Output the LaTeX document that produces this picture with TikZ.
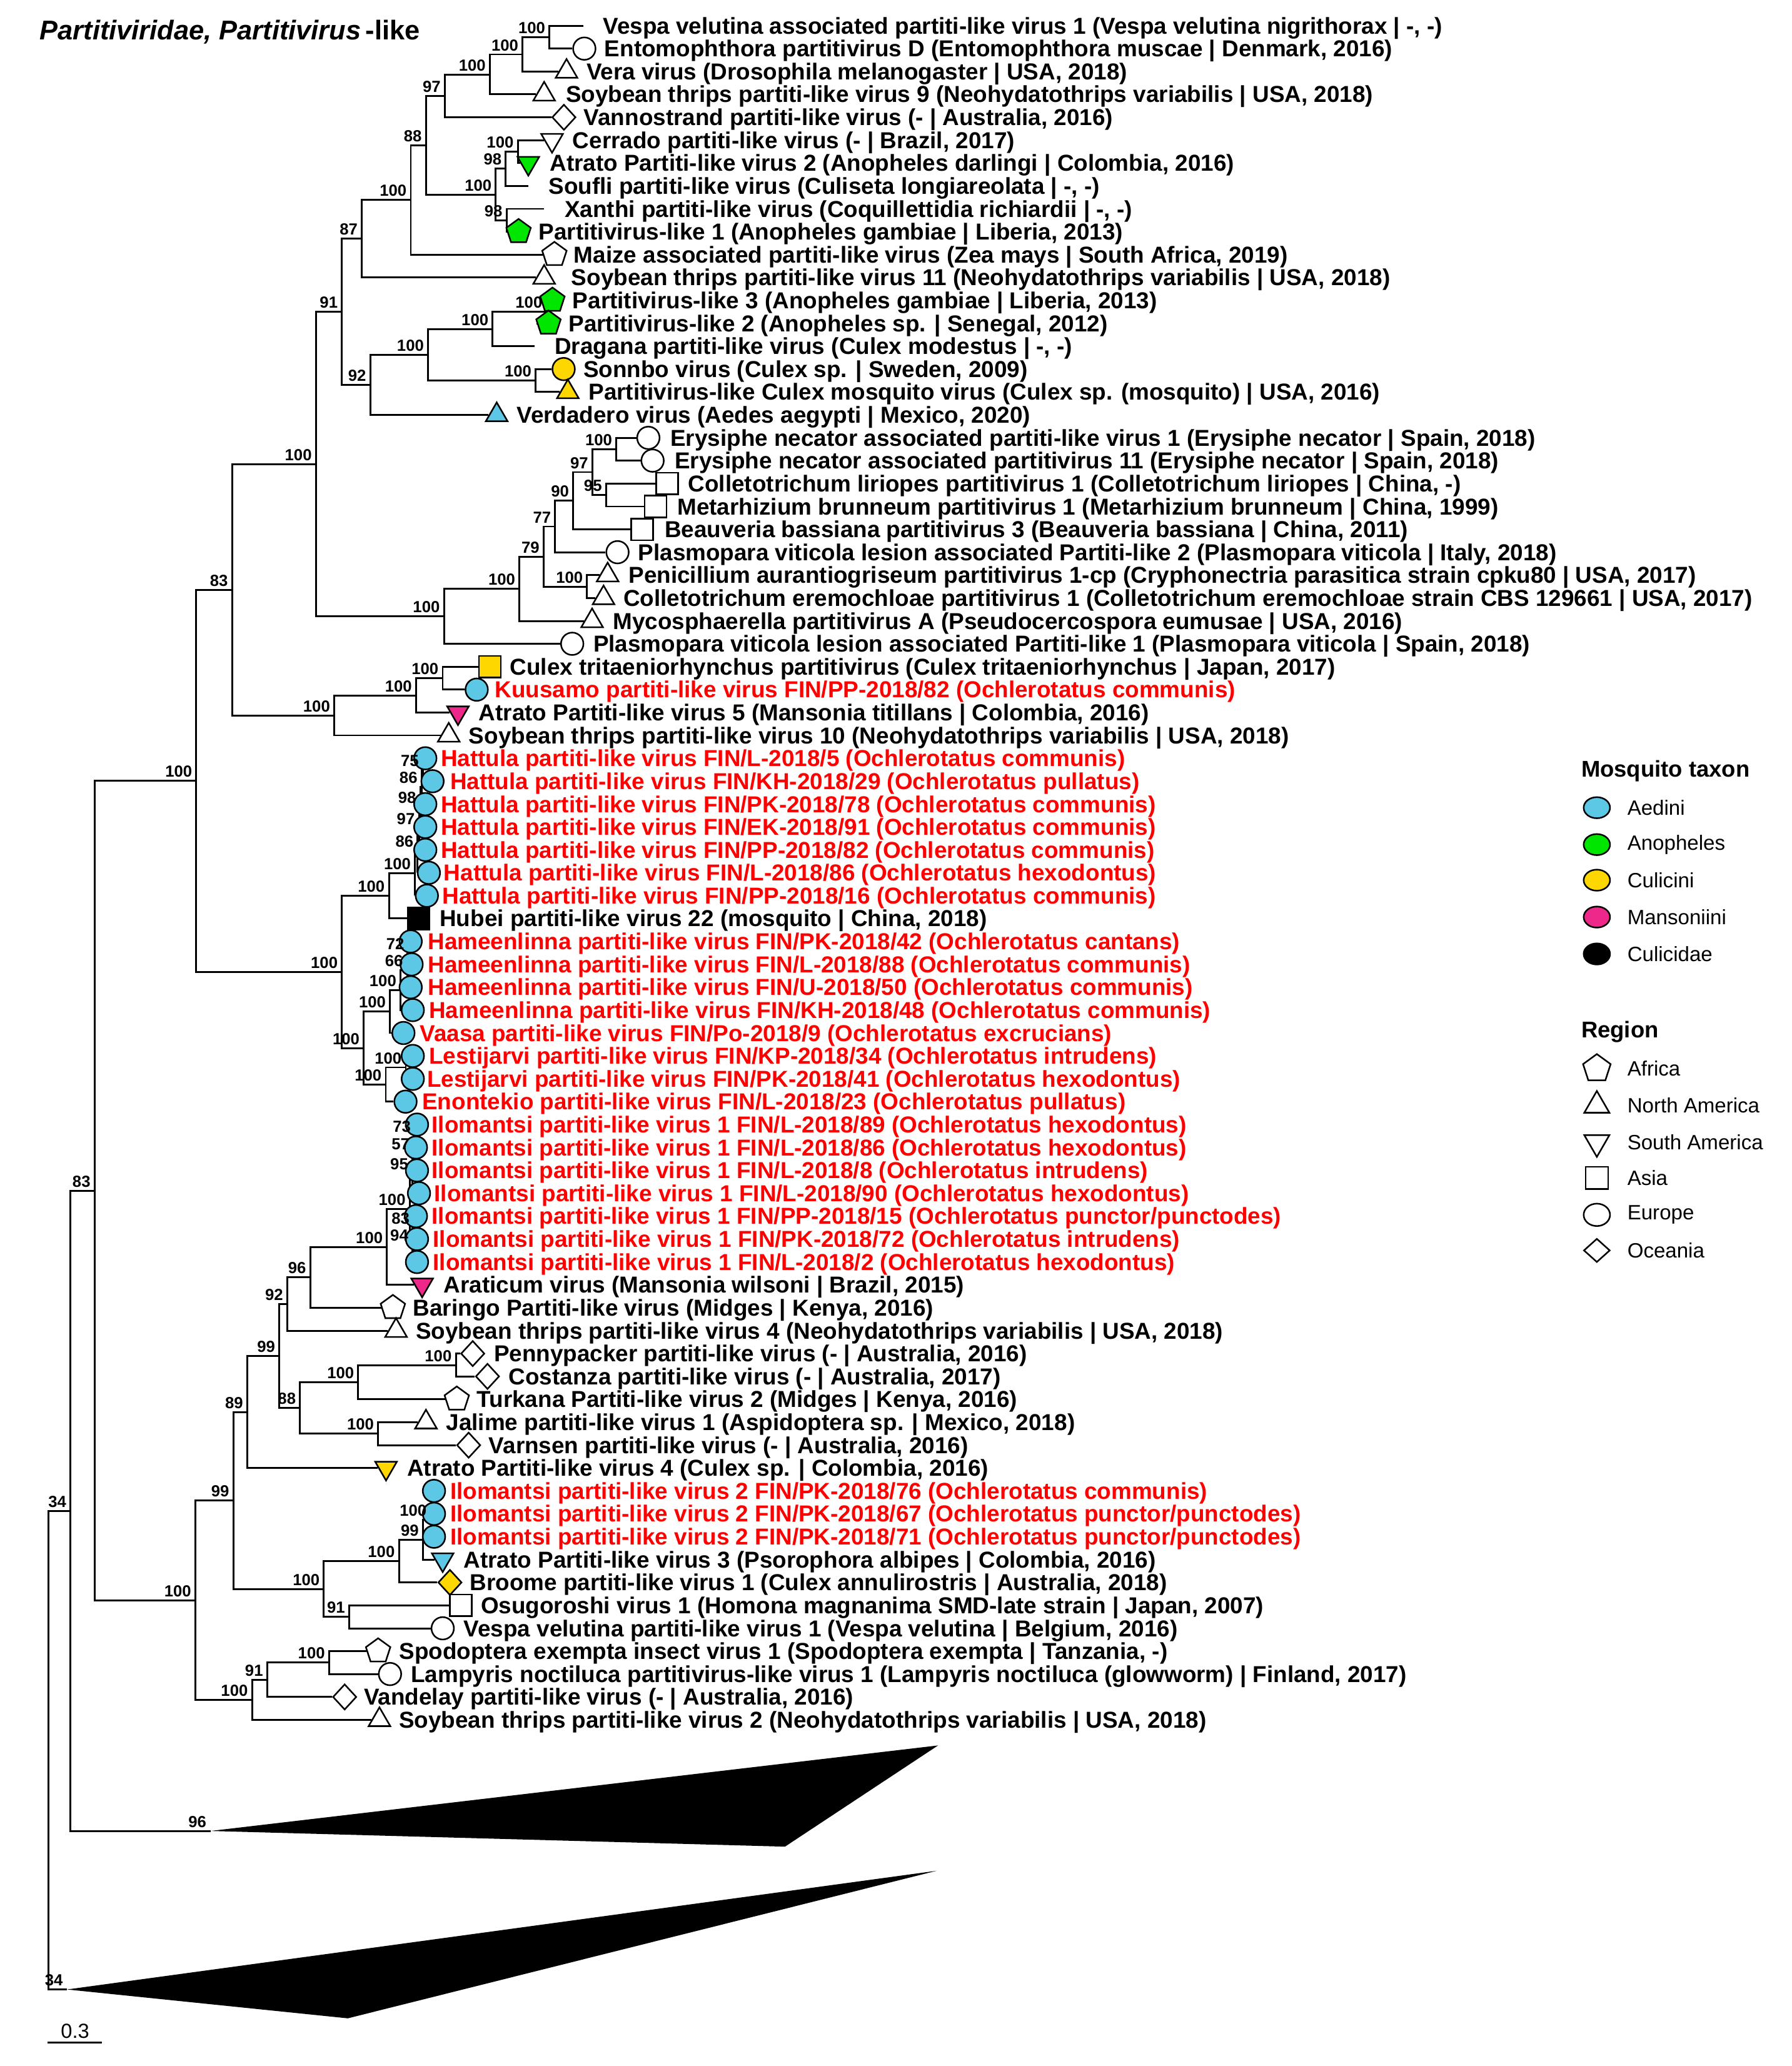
\documentclass[tikz,border=0pt]{standalone}
\usepackage{fontspec}
\setmainfont{Liberation Sans}
\usetikzlibrary{shapes.geometric}

\definecolor{aedini}{RGB}{92,200,230}
\definecolor{anoph}{RGB}{0,230,0}
\definecolor{culic}{RGB}{255,215,0}
\definecolor{manso}{RGB}{238,40,138}
\definecolor{finred}{RGB}{255,0,0}

\pgfdeclarelayer{bg}
\pgfsetlayers{bg,main}

\tikzset{
  br/.style={line width=1.4pt},
  sym/.style={draw,line width=1.2pt,inner sep=0pt,fill=white},
  eu/.style={sym,circle,minimum size=17pt},
  na/.style={sym,regular polygon,regular polygon sides=3,minimum size=19pt},
  sa/.style={na,shape border rotate=180},
  asi/.style={sym,rectangle,minimum size=16.5pt},
  af/.style={sym,regular polygon,regular polygon sides=5,minimum size=19.5pt},
  oc/.style={sym,diamond,minimum width=18pt,minimum height=19.5pt},
  bs/.style={anchor=south east,inner sep=0pt,xshift=-3pt,yshift=2.5pt,font=\fontsize{12.2}{13}\selectfont\bfseries},
  lf/.style={anchor=base west,inner sep=0pt,yshift=-6.2pt,font=\fontsize{17.5}{18}\selectfont\bfseries},
  fin/.style={lf,text=finred},
  lg/.style={anchor=west,inner sep=0pt,font=\fontsize{15.7}{17}\selectfont},
  lgh/.style={anchor=west,inner sep=0pt,font=\fontsize{17.3}{18}\selectfont\bfseries},
}

\begin{document}
\begin{tikzpicture}[x=1pt,y=-1pt]
\useasboundingbox (0,0) rectangle (1360,1568);

\node (ttl) at (30,30) [anchor=base west,inner sep=0pt,font=\fontsize{20.6}{22}\selectfont\bfseries] {\textit{Partitiviridae, Partitivirus}\,-like};

% leaf symbols
\coordinate (l1) at (443,19.5);
\node (l2) at (443.5,36.9) [eu] {};
\node (l3) at (430,54.3) [na] {};
\node (l4) at (413,71.6) [na] {};
\node (l5) at (428,89) [oc] {};
\node (l6) at (419,106.4) [sa] {};
\node (l7) at (401,123.8) [sa,fill=anoph] {};
\coordinate (l8) at (401,141.1);
\coordinate (l9) at (413,158.5);
\node (l10) at (393.6,175.9) [af,fill=anoph] {};
\node (l11) at (420.8,193.3) [af] {};
\node (l12) at (413,210.6) [na] {};
\node (l13) at (419.3,228) [af,fill=anoph] {};
\node (l14) at (416.3,245.4) [af,fill=anoph] {};
\coordinate (l15) at (405.7,262.8);
\node (l16) at (427.8,280.1) [eu,fill=culic] {};
\node (l17) at (431,297.5) [na,fill=culic] {};
\node (l18) at (377,314.9) [na,fill=aedini] {};
\node (l19) at (492.1,332.3) [eu] {};
\node (l20) at (495.3,349.6) [eu] {};
\node (l21) at (506.3,367) [asi] {};
\node (l22) at (497.6,384.4) [asi] {};
\node (l23) at (487.4,401.8) [asi] {};
\node (l24) at (468.7,419.1) [eu] {};
\node (l25) at (461.2,436.5) [na] {};
\node (l26) at (458.1,453.9) [na] {};
\node (l27) at (449.4,471.3) [na] {};
\node (l28) at (434.3,488.6) [eu] {};
\node (l29) at (371.8,506) [asi,fill=culic] {};
\node (l30) at (361.8,523.4) [eu,fill=aedini] {};
\node (l31) at (347.6,540.8) [sa,fill=manso] {};
\node (l32) at (340.6,558.1) [na] {};
\node (l33) at (322.8,575.5) [eu,fill=aedini] {};
\node (l34) at (328.3,592.9) [eu,fill=aedini] {};
\node (l35) at (322.8,610.3) [eu,fill=aedini] {};
\node (l36) at (322.8,627.6) [eu,fill=aedini] {};
\node (l37) at (322.8,645) [eu,fill=aedini] {};
\node (l38) at (325.5,662.4) [eu,fill=aedini] {};
\node (l39) at (324,679.8) [eu,fill=aedini] {};
\node (l40) at (317.7,697.1) [asi,fill=black] {};
\node (l41) at (311.7,714.5) [eu,fill=aedini] {};
\node (l42) at (312.4,731.9) [eu,fill=aedini] {};
\node (l43) at (311.7,749.3) [eu,fill=aedini] {};
\node (l44) at (313.3,766.6) [eu,fill=aedini] {};
\node (l45) at (306.2,784) [eu,fill=aedini] {};
\node (l46) at (313.3,801.4) [eu,fill=aedini] {};
\node (l47) at (313.3,818.8) [eu,fill=aedini] {};
\node (l48) at (307.8,836.1) [eu,fill=aedini] {};
\node (l49) at (316.5,853.5) [eu,fill=aedini] {};
\node (l50) at (315.7,870.9) [eu,fill=aedini] {};
\node (l51) at (316.5,888.3) [eu,fill=aedini] {};
\node (l52) at (318,905.6) [eu,fill=aedini] {};
\node (l53) at (315.7,923) [eu,fill=aedini] {};
\node (l54) at (316.5,940.4) [eu,fill=aedini] {};
\node (l55) at (316.5,957.8) [eu,fill=aedini] {};
\node (l56) at (320.4,975.1) [sa,fill=manso] {};
\node (l57) at (298.2,992.5) [af] {};
\node (l58) at (300.6,1009.9) [na] {};
\node (l59) at (358.8,1027.3) [oc] {};
\node (l60) at (370,1044.6) [oc] {};
\node (l61) at (346.7,1062) [af] {};
\node (l62) at (323.3,1079.4) [na] {};
\node (l63) at (355.7,1096.8) [oc] {};
\node (l64) at (293,1114.1) [sa,fill=culic] {};
\node (l65) at (329.4,1131.5) [eu,fill=aedini] {};
\node (l66) at (329.4,1148.9) [eu,fill=aedini] {};
\node (l67) at (329.4,1166.3) [eu,fill=aedini] {};
\node (l68) at (336,1183.6) [sa,fill=aedini] {};
\node (l69) at (341.5,1201) [oc,fill=culic] {};
\node (l70) at (349.7,1218.4) [asi] {};
\node (l71) at (336,1235.8) [eu] {};
\node (l72) at (287,1253.1) [af] {};
\node (l73) at (296,1270.5) [eu] {};
\node (l74) at (261.6,1287.9) [oc] {};
\node (l75) at (288,1305.3) [na] {};

% inner nodes
\coordinate (a) at (417,28.2);
\coordinate (b) at (396.6,41.3);
\coordinate (c) at (371.8,56.5);
\coordinate (d) at (337.6,72.7);
\coordinate (i) at (393,115.1);
\coordinate (g) at (383.9,128.1);
\coordinate (h) at (384.5,167.2);
\coordinate (f) at (376.3,147.7);
\coordinate (e) at (323.3,110.2);
\coordinate (j) at (311.8,151.7);
\coordinate (k) at (274.6,181.2);
\coordinate (r) at (414.8,236.7);
\coordinate (p) at (373.9,249.7);
\coordinate (q) at (406.6,288.8);
\coordinate (o) at (324.9,269.3);
\coordinate (n) at (281,292.1);
\coordinate (kn) at (259.5,236.6);
\coordinate (y) at (467.8,341);
\coordinate (z) at (460,375.7);
\coordinate (x) at (449.6,358.3);
\coordinate (w) at (435,380.1);
\coordinate (v) at (421.4,399.6);
\coordinate (pe) at (445.6,445.2);
\coordinate (u) at (412.6,422.4);
\coordinate (t) at (394.2,446.8);
\coordinate (s) at (337,467.7);
\coordinate (ms) at (239.8,352.2);
\coordinate (ec) at (336,514.7);
\coordinate (dc) at (315.8,527.8);
\coordinate (cc) at (253.7,543);
\coordinate (aa) at (176.2,447.6);
\coordinate (h1) at (321,584.2);
\coordinate (h2) at (320,597.3);
\coordinate (h3) at (319,612.4);
\coordinate (h4) at (318,628.7);
\coordinate (h5) at (317,645.6);
\coordinate (h6) at (315,662.7);
\coordinate (gg) at (295.2,679.9);
\coordinate (m1) at (310,723.2);
\coordinate (m2) at (309,736.3);
\coordinate (m3) at (304,751.5);
\coordinate (ii) at (296,767.8);
\coordinate (le) at (308,810.1);
\coordinate (kk) at (292.8,823.1);
\coordinate (jj) at (276.1,795.5);
\coordinate (ff) at (259.5,737.7);
\coordinate (bb) at (149,592.7);
\coordinate (i1) at (315,862.2);
\coordinate (i2) at (314,875.3);
\coordinate (i3) at (313,890.4);
\coordinate (i4) at (314,931.7);
\coordinate (i5) at (313,944.8);
\coordinate (mm) at (311,917.6);
\coordinate (lq) at (293.7,946.4);
\coordinate (qq) at (235.5,969.4);
\coordinate (rr) at (218,989.7);
\coordinate (vv) at (346,1036);
\coordinate (uu) at (271.9,1049);
\coordinate (ww) at (287,1088.1);
\coordinate (tt) at (227.7,1068.6);
\coordinate (ss) at (212,1029.2);
\coordinate (xx) at (187.7,1071.7);
\coordinate (j1) at (329,1140.2);
\coordinate (j2) at (327,1153.3);
\coordinate (b2) at (321,1168.5);
\coordinate (a2) at (302.8,1184.8);
\coordinate (c2) at (265,1227.1);
\coordinate (zz) at (245.8,1206);
\coordinate (yy) at (177.1,1138.9);
\coordinate (h7) at (249.8,1261.8);
\coordinate (f2) at (202.8,1274.9);
\coordinate (g2) at (191.3,1290.1);
\coordinate (d2) at (148.3,1214.5);
\coordinate (nn) at (71.8,903.6);
\coordinate (c96) at (159.8,1389.6);
\coordinate (oo) at (53.5,1146.6);
\coordinate (c34) at (50.9,1509.9);
\coordinate (root) at (36.6,1328.2);

% branches
\begin{pgfonlayer}{bg}
\draw [br] (l1) -| (a) |- (l2);
\draw [br] (a) -| (b) |- (l3);
\draw [br] (b) -| (c) |- (l4);
\draw [br] (c) -| (d) |- (l5);
\draw [br] (l6) -| (i) |- (l7);
\draw [br] (i) -| (g) |- (l8);
\draw [br] (l9) -| (h) |- (l10);
\draw [br] (g) -| (f) |- (h);
\draw [br] (d) -| (e) |- (f);
\draw [br] (e) -| (j) |- (l11);
\draw [br] (j) -| (k) |- (l12);
\draw [br] (l13) -| (r) |- (l14);
\draw [br] (r) -| (p) |- (l15);
\draw [br] (l16) -| (q) |- (l17);
\draw [br] (p) -| (o) |- (q);
\draw [br] (o) -| (n) |- (l18);
\draw [br] (k) -| (kn) |- (n);
\draw [br] (l19) -| (y) |- (l20);
\draw [br] (l21) -| (z) |- (l22);
\draw [br] (y) -| (x) |- (z);
\draw [br] (x) -| (w) |- (l23);
\draw [br] (w) -| (v) |- (l24);
\draw [br] (l25) -| (pe) |- (l26);
\draw [br] (v) -| (u) |- (pe);
\draw [br] (u) -| (t) |- (l27);
\draw [br] (t) -| (s) |- (l28);
\draw [br] (kn) -| (ms) |- (s);
\draw [br] (l29) -| (ec) |- (l30);
\draw [br] (ec) -| (dc) |- (l31);
\draw [br] (dc) -| (cc) |- (l32);
\draw [br] (ms) -| (aa) |- (cc);
\draw [br] (l33) -| (h1) |- (l34);
\draw [br] (h1) -| (h2) |- (l35);
\draw [br] (h2) -| (h3) |- (l36);
\draw [br] (h3) -| (h4) |- (l37);
\draw [br] (h4) -| (h5) |- (l38);
\draw [br] (h5) -| (h6) |- (l39);
\draw [br] (h6) -| (gg) |- (l40);
\draw [br] (l41) -| (m1) |- (l42);
\draw [br] (m1) -| (m2) |- (l43);
\draw [br] (m2) -| (m3) |- (l44);
\draw [br] (m3) -| (ii) |- (l45);
\draw [br] (l46) -| (le) |- (l47);
\draw [br] (le) -| (kk) |- (l48);
\draw [br] (ii) -| (jj) |- (kk);
\draw [br] (gg) -| (ff) |- (jj);
\draw [br] (aa) -| (bb) |- (ff);
\draw [br] (l49) -| (i1) |- (l50);
\draw [br] (i1) -| (i2) |- (l51);
\draw [br] (i2) -| (i3) |- (l52);
\draw [br] (l53) -| (i4) |- (l54);
\draw [br] (i4) -| (i5) |- (l55);
\draw [br] (i3) -| (mm) |- (i5);
\draw [br] (mm) -| (lq) |- (l56);
\draw [br] (lq) -| (qq) |- (l57);
\draw [br] (qq) -| (rr) |- (l58);
\draw [br] (l59) -| (vv) |- (l60);
\draw [br] (vv) -| (uu) |- (l61);
\draw [br] (l62) -| (ww) |- (l63);
\draw [br] (uu) -| (tt) |- (ww);
\draw [br] (rr) -| (ss) |- (tt);
\draw [br] (ss) -| (xx) |- (l64);
\draw [br] (l65) -| (j1) |- (l66);
\draw [br] (j1) -| (j2) |- (l67);
\draw [br] (j2) -| (b2) |- (l68);
\draw [br] (b2) -| (a2) |- (l69);
\draw [br] (l70) -| (c2) |- (l71);
\draw [br] (a2) -| (zz) |- (c2);
\draw [br] (xx) -| (yy) |- (zz);
\draw [br] (l72) -| (h7) |- (l73);
\draw [br] (h7) -| (f2) |- (l74);
\draw [br] (f2) -| (g2) |- (l75);
\draw [br] (yy) -| (d2) |- (g2);
\draw [br] (bb) -| (nn) |- (d2);
\draw [br] (nn) -| (oo) |- (c96);
\draw [br] (oo) -| (root) |- (c34);
\end{pgfonlayer}

% collapsed clades
\fill (c96) -- (712,1324.7) -- (595.8,1401.5) -- cycle;
\fill (c34) -- (711,1419.8) -- (264,1531.8) -- cycle;

% bootstrap values
\node (bta) [bs] at (a) {100};
\node (btb) [bs] at (b) {100};
\node (btc) [bs] at (c) {100};
\node (btd) [bs] at (d) {97};
\node (bte) [bs] at (e) {88};
\node (btf) [bs] at (f) {100};
\node (btg) [bs] at (g) {98};
\node (bti) [bs] at (i) {100};
\node (bth) [bs] at (h) {98};
\node (btj) [bs] at (j) {100};
\node (btk) [bs] at (k) {87};
\node (btkn) [bs] at (kn) {91};
\node (btr) [bs] at (r) {100};
\node (btp) [bs] at (p) {100};
\node (btq) [bs] at (q) {100};
\node (bto) [bs] at (o) {100};
\node (btn) [bs] at (n) {92};
\node (bty) [bs] at (y) {100};
\node (btz) [bs] at (z) {95};
\node (btx) [bs] at (x) {97};
\node (btw) [bs] at (w) {90};
\node (btv) [bs] at (v) {77};
\node (btpe) [bs] at (pe) {100};
\node (btu) [bs] at (u) {79};
\node (btt) [bs] at (t) {100};
\node (bts) [bs] at (s) {100};
\node (btms) [bs] at (ms) {100};
\node (btec) [bs] at (ec) {100};
\node (btdc) [bs] at (dc) {100};
\node (btcc) [bs] at (cc) {100};
\node (btaa) [bs] at (aa) {83};
\node (bth1) [bs] at (h1) {75};
\node (bth2) [bs] at (h2) {86};
\node (bth3) [bs] at (h3) {98};
\node (bth4) [bs] at (h4) {97};
\node (bth5) [bs] at (h5) {86};
\node (bth6) [bs] at (h6) {100};
\node (btgg) [bs] at (gg) {100};
\node (btm1) [bs] at (m1) {72};
\node (btm2) [bs] at (m2) {66};
\node (btm3) [bs] at (m3) {100};
\node (btii) [bs] at (ii) {100};
\node (btle) [bs] at (le) {100};
\node (btkk) [bs] at (kk) {100};
\node (btjj) [bs] at (jj) {100};
\node (btff) [bs] at (ff) {100};
\node (btbb) [bs] at (bb) {100};
\node (bti1) [bs] at (i1) {73};
\node (bti2) [bs] at (i2) {57};
\node (bti3) [bs] at (i3) {95};
\node (bti4) [bs] at (i4) {83};
\node (bti5) [bs] at (i5) {94};
\node (btmm) [bs] at (mm) {100};
\node (btlq) [bs] at (lq) {100};
\node (btqq) [bs] at (qq) {96};
\node (btrr) [bs] at (rr) {92};
\node (btvv) [bs] at (vv) {100};
\node (btuu) [bs] at (uu) {100};
\node (btww) [bs] at (ww) {100};
\node (bttt) [bs] at (tt) {88};
\node (btss) [bs] at (ss) {99};
\node (btxx) [bs] at (xx) {89};
\node (btj2) [bs] at (j2) {100};
\node (btb2) [bs] at (b2) {99};
\node (bta2) [bs] at (a2) {100};
\node (btc2) [bs] at (c2) {91};
\node (btzz) [bs] at (zz) {100};
\node (btyy) [bs] at (yy) {99};
\node (bth7) [bs] at (h7) {100};
\node (btf2) [bs] at (f2) {91};
\node (btg2) [bs] at (g2) {100};
\node (btd2) [bs] at (d2) {100};
\node (btnn) [bs] at (nn) {83};
\node (btc96) [bs] at (c96) {96};
\node (btoo) [bs] at (oo) {34};
\node (btc34) [bs] at (c34) {34};

% leaf names
\node (t1) at (457.5,19.5) [lf] {Vespa velutina associated partiti-like virus 1 (Vespa velutina nigrithorax | -, -)};
\node (t2) at (458.7,36.9) [lf] {Entomophthora partitivirus D (Entomophthora muscae | Denmark, 2016)};
\node (t3) at (445,54.3) [lf] {Vera virus (Drosophila melanogaster | USA, 2018)};
\node (t4) at (429.3,71.6) [lf] {Soybean thrips partiti-like virus 9 (Neohydatothrips variabilis | USA, 2018)};
\node (t5) at (443,89) [lf] {Vannostrand partiti-like virus (- | Australia, 2016)};
\node (t6) at (434.5,106.4) [lf] {Cerrado partiti-like virus (- | Brazil, 2017)};
\node (t7) at (417.2,123.8) [lf] {Atrato Partiti-like virus 2 (Anopheles darlingi | Colombia, 2016)};
\node (t8) at (416.3,141.1) [lf] {Soufli partiti-like virus (Culiseta longiareolata | -, -)};
\node (t9) at (428.4,158.5) [lf] {Xanthi partiti-like virus (Coquillettidia richiardii | -, -)};
\node (t10) at (408.7,175.9) [lf] {Partitivirus-like 1 (Anopheles gambiae | Liberia, 2013)};
\node (t11) at (435.4,193.3) [lf] {Maize associated partiti-like virus (Zea mays | South Africa, 2019)};
\node (t12) at (433.5,210.6) [lf] {Soybean thrips partiti-like virus 11 (Neohydatothrips variabilis | USA, 2018)};
\node (t13) at (434.5,228) [lf] {Partitivirus-like 3 (Anopheles gambiae | Liberia, 2013)};
\node (t14) at (431.4,245.4) [lf] {Partitivirus-like 2 (Anopheles sp. | Senegal, 2012)};
\node (t15) at (420.8,262.8) [lf] {Dragana partiti-like virus (Culex modestus | -, -)};
\node (t16) at (442.6,280.1) [lf] {Sonnbo virus (Culex sp. | Sweden, 2009)};
\node (t17) at (446.6,297.5) [lf] {Partitivirus-like Culex mosquito virus (Culex sp. (mosquito) | USA, 2016)};
\node (t18) at (392,314.9) [lf] {Verdadero virus (Aedes aegypti | Mexico, 2020)};
\node (t19) at (508.7,332.3) [lf] {Erysiphe necator associated partiti-like virus 1 (Erysiphe necator | Spain, 2018)};
\node (t20) at (511.9,349.6) [lf] {Erysiphe necator associated partitivirus 11 (Erysiphe necator | Spain, 2018)};
\node (t21) at (522.2,367) [lf] {Colletotrichum liriopes partitivirus 1 (Colletotrichum liriopes | China, -)};
\node (t22) at (513.9,384.4) [lf] {Metarhizium brunneum partitivirus 1 (Metarhizium brunneum | China, 1999)};
\node (t23) at (504.4,401.8) [lf] {Beauveria bassiana partitivirus 3 (Beauveria bassiana | China, 2011)};
\node (t24) at (484.2,419.1) [lf] {Plasmopara viticola lesion associated Partiti-like 2 (Plasmopara viticola | Italy, 2018)};
\node (t25) at (477,436.5) [lf] {Penicillium aurantiogriseum partitivirus 1-cp (Cryphonectria parasitica strain cpku80 | USA, 2017)};
\node (t26) at (473.1,453.9) [lf] {Colletotrichum eremochloae partitivirus 1 (Colletotrichum eremochloae strain CBS 129661 | USA, 2017)};
\node (t27) at (465.2,471.3) [lf] {Mycosphaerella partitivirus A (Pseudocercospora eumusae | USA, 2016)};
\node (t28) at (450.2,488.6) [lf] {Plasmopara viticola lesion associated Partiti-like 1 (Plasmopara viticola | Spain, 2018)};
\node (t29) at (386.9,506) [lf] {Culex tritaeniorhynchus partitivirus (Culex tritaeniorhynchus | Japan, 2017)};
\node (t30) at (375.4,523.4) [fin] {Kuusamo partiti-like virus FIN/PP-2018/82 (Ochlerotatus communis)};
\node (t31) at (363.3,540.8) [lf] {Atrato Partiti-like virus 5 (Mansonia titillans | Colombia, 2016)};
\node (t32) at (355.7,558.1) [lf] {Soybean thrips partiti-like virus 10 (Neohydatothrips variabilis | USA, 2018)};
\node (t33) at (334.5,575.5) [fin] {Hattula partiti-like virus FIN/L-2018/5 (Ochlerotatus communis)};
\node (t34) at (341.5,592.9) [fin] {Hattula partiti-like virus FIN/KH-2018/29 (Ochlerotatus pullatus)};
\node (t35) at (334.5,610.3) [fin] {Hattula partiti-like virus FIN/PK-2018/78 (Ochlerotatus communis)};
\node (t36) at (334.5,627.6) [fin] {Hattula partiti-like virus FIN/EK-2018/91 (Ochlerotatus communis)};
\node (t37) at (334.5,645) [fin] {Hattula partiti-like virus FIN/PP-2018/82 (Ochlerotatus communis)};
\node (t38) at (336.7,662.4) [fin] {Hattula partiti-like virus FIN/L-2018/86 (Ochlerotatus hexodontus)};
\node (t39) at (335.5,679.8) [fin] {Hattula partiti-like virus FIN/PP-2018/16 (Ochlerotatus communis)};
\node (t40) at (333.6,697.1) [lf] {Hubei partiti-like virus 22 (mosquito | China, 2018)};
\node (t41) at (324.6,714.5) [fin] {Hameenlinna partiti-like virus FIN/PK-2018/42 (Ochlerotatus cantans)};
\node (t42) at (324.6,731.9) [fin] {Hameenlinna partiti-like virus FIN/L-2018/88 (Ochlerotatus communis)};
\node (t43) at (324.6,749.3) [fin] {Hameenlinna partiti-like virus FIN/U-2018/50 (Ochlerotatus communis)};
\node (t44) at (325.5,766.6) [fin] {Hameenlinna partiti-like virus FIN/KH-2018/48 (Ochlerotatus communis)};
\node (t45) at (318.5,784) [fin] {Vaasa partiti-like virus FIN/Po-2018/9 (Ochlerotatus excrucians)};
\node (t46) at (325.5,801.4) [fin] {Lestijarvi partiti-like virus FIN/KP-2018/34 (Ochlerotatus intrudens)};
\node (t47) at (324,818.8) [fin] {Lestijarvi partiti-like virus FIN/PK-2018/41 (Ochlerotatus hexodontus)};
\node (t48) at (320.3,836.1) [fin] {Enontekio partiti-like virus FIN/L-2018/23 (Ochlerotatus pullatus)};
\node (t49) at (327.6,853.5) [fin] {Ilomantsi partiti-like virus 1 FIN/L-2018/89 (Ochlerotatus hexodontus)};
\node (t50) at (327.6,870.9) [fin] {Ilomantsi partiti-like virus 1 FIN/L-2018/86 (Ochlerotatus hexodontus)};
\node (t51) at (327.6,888.3) [fin] {Ilomantsi partiti-like virus 1 FIN/L-2018/8 (Ochlerotatus intrudens)};
\node (t52) at (329.4,905.6) [fin] {Ilomantsi partiti-like virus 1 FIN/L-2018/90 (Ochlerotatus hexodontus)};
\node (t53) at (327.6,923) [fin] {Ilomantsi partiti-like virus 1 FIN/PP-2018/15 (Ochlerotatus punctor/punctodes)};
\node (t54) at (328.5,940.4) [fin] {Ilomantsi partiti-like virus 1 FIN/PK-2018/72 (Ochlerotatus intrudens)};
\node (t55) at (328.5,957.8) [fin] {Ilomantsi partiti-like virus 1 FIN/L-2018/2 (Ochlerotatus hexodontus)};
\node (t56) at (336.7,975.1) [lf] {Araticum virus (Mansonia wilsoni | Brazil, 2015)};
\node (t57) at (313.4,992.5) [lf] {Baringo Partiti-like virus (Midges | Kenya, 2016)};
\node (t58) at (315.5,1009.9) [lf] {Soybean thrips partiti-like virus 4 (Neohydatothrips variabilis | USA, 2018)};
\node (t59) at (374.8,1027.3) [lf] {Pennypacker partiti-like virus (- | Australia, 2016)};
\node (t60) at (386,1044.6) [lf] {Costanza partiti-like virus (- | Australia, 2017)};
\node (t61) at (361.8,1062) [lf] {Turkana Partiti-like virus 2 (Midges | Kenya, 2016)};
\node (t62) at (338.5,1079.4) [lf] {Jalime partiti-like virus 1 (Aspidoptera sp. | Mexico, 2018)};
\node (t63) at (370.9,1096.8) [lf] {Varnsen partiti-like virus (- | Australia, 2016)};
\node (t64) at (308.8,1114.1) [lf] {Atrato Partiti-like virus 4 (Culex sp. | Colombia, 2016)};
\node (t65) at (341.5,1131.5) [fin] {Ilomantsi partiti-like virus 2 FIN/PK-2018/76 (Ochlerotatus communis)};
\node (t66) at (341.5,1148.9) [fin] {Ilomantsi partiti-like virus 2 FIN/PK-2018/67 (Ochlerotatus punctor/punctodes)};
\node (t67) at (341.5,1166.3) [fin] {Ilomantsi partiti-like virus 2 FIN/PK-2018/71 (Ochlerotatus punctor/punctodes)};
\node (t68) at (351.8,1183.6) [lf] {Atrato Partiti-like virus 3 (Psorophora albipes | Colombia, 2016)};
\node (t69) at (356.6,1201) [lf] {Broome partiti-like virus 1 (Culex annulirostris | Australia, 2018)};
\node (t70) at (364.8,1218.4) [lf] {Osugoroshi virus 1 (Homona magnanima SMD-late strain | Japan, 2007)};
\node (t71) at (351.8,1235.8) [lf] {Vespa velutina partiti-like virus 1 (Vespa velutina | Belgium, 2016)};
\node (t72) at (302.8,1253.1) [lf] {Spodoptera exempta insect virus 1 (Spodoptera exempta | Tanzania, -)};
\node (t73) at (311.8,1270.5) [lf] {Lampyris noctiluca partitivirus-like virus 1 (Lampyris noctiluca (glowworm) | Finland, 2017)};
\node (t74) at (276.1,1287.9) [lf] {Vandelay partiti-like virus (- | Australia, 2016)};
\node (t75) at (302.7,1305.3) [lf] {Soybean thrips partiti-like virus 2 (Neohydatothrips variabilis | USA, 2018)};

% scale bar
\draw [line width=1.5pt] (36.3,1550) coordinate (sb1) -- (77.5,1550) coordinate (sb2);
\node (sbt) at (57,1547) [anchor=base,inner sep=0pt,font=\fontsize{15.5}{16}\selectfont] {0.3};

% legend
\node (mt) at (1200,585) [lgh] {Mosquito taxon};
\node (k1) at (1212,613) [sym,ellipse,minimum width=20pt,minimum height=16pt,fill=aedini] {};
\node (k2) at (1212,641) [sym,ellipse,minimum width=20pt,minimum height=16pt,fill=anoph] {};
\node (k3) at (1212,668) [sym,ellipse,minimum width=20pt,minimum height=16pt,fill=culic] {};
\node (k4) at (1212,696) [sym,ellipse,minimum width=20pt,minimum height=16pt,fill=manso] {};
\node (k5) at (1212,724) [sym,ellipse,minimum width=20pt,minimum height=16pt,fill=black] {};
\node (k1t) at (1235,613) [lg] {Aedini};
\node (k2t) at (1235,641) [lg] {Anopheles};
\node (k3t) at (1235,668) [lg] {Culicini};
\node (k4t) at (1235,696) [lg] {Mansoniini};
\node (k5t) at (1235,724) [lg] {Culicidae};

\node (rg) at (1200,783) [lgh] {Region};
\node (g1) at (1212,811) [af,minimum size=22pt] {};
\node (g2) at (1212,839) [na,minimum size=22pt] {};
\node (g3) at (1212,867) [sa,minimum size=22pt] {};
\node (g4) at (1212,894) [asi,minimum size=17pt] {};
\node (g5) at (1212,922) [sym,ellipse,minimum width=20pt,minimum height=17pt] {};
\node (g6) at (1212,949) [oc,minimum width=20pt,minimum height=18pt] {};
\node (g1t) at (1235,811) [lg] {Africa};
\node (g2t) at (1235,839) [lg] {North America};
\node (g3t) at (1235,867) [lg] {South America};
\node (g4t) at (1235,894) [lg] {Asia};
\node (g5t) at (1235,922) [lg] {Europe};
\node (g6t) at (1235,949) [lg] {Oceania};

\end{tikzpicture}
\end{document}
